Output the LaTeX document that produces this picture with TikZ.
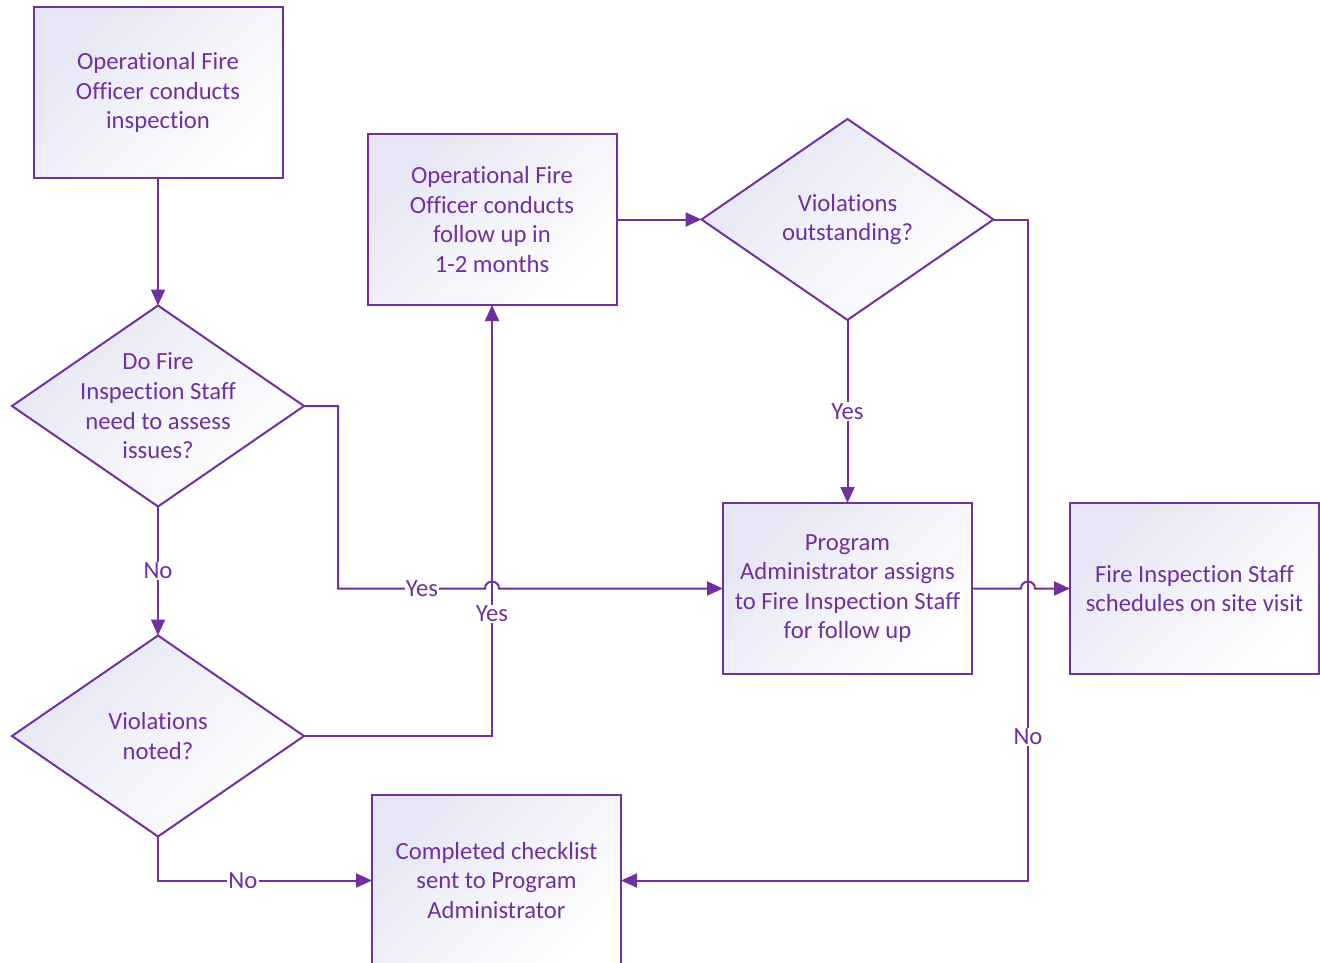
\documentclass[tikz,border=0pt]{standalone}
\usepackage{fontspec}
\setmainfont{Carlito}[Ligatures=NoCommon]
\usetikzlibrary{shapes.geometric,arrows.meta}
\definecolor{pur}{RGB}{112,48,160}
\definecolor{lav}{RGB}{230,230,244}
\tikzset{
  txt/.style={text=pur, align=center, font=\fontsize{18.5}{22.2}\selectfont},
  base/.style={draw=pur, line width=1.5pt, inner sep=0pt, outer sep=0pt,
    shade, shading=axis, top color=lav, bottom color=white, shading angle=45},
  box/.style={base, txt, rectangle, minimum width=249*0.75pt, minimum height=171*0.75pt},
  dia/.style={base, diamond, minimum width=292*0.75pt, minimum height=201*0.75pt},
  dtext/.style={txt, inner sep=0pt},
  conn/.style={draw=pur, line width=1.5pt, -{Triangle[length=12pt,width=10.5pt]}},
  lbl/.style={fill=white, text=pur, inner sep=1pt, font=\fontsize{18.5}{22.2}\selectfont},
}
\begin{document}
\begin{tikzpicture}[x=0.75pt, y=-0.75pt]
\useasboundingbox (0,0) rectangle (1320,963);
\node[box] (A) at (158,92.5) {Operational Fire\\Officer conducts\\inspection};
\node[dia, label={[dtext]center:{Do Fire\\Inspection Staff\\need to assess\\issues?}}] (D1) at (158,406) {};
\node[dia, label={[dtext]center:{Violations\\noted?}}] (D2) at (158,736) {};
\node[box] (B) at (492,219.5) {Operational Fire\\Officer conducts\\follow up in\\1-2 months};
\node[dia, label={[dtext]center:{Violations\\outstanding?}}] (D3) at (847.5,219.5) {};
\node[box] (C) at (847.5,588.5) {Program\\Administrator assigns\\to Fire Inspection Staff\\for follow up};
\node[box] (D) at (1194.5,588.5) {Fire Inspection Staff\\schedules on site visit};
\node[box] (E) at (496.5,880.5) {Completed checklist\\sent to Program\\Administrator};

\coordinate (c1) at (338,406);
\coordinate (c2) at (338,588.5);
\coordinate (h1a) at (485,588.5);
\coordinate (c3) at (492,736);
\coordinate (c4) at (158,880.5);
\coordinate (c5) at (1028,219.5);
\coordinate (c6) at (1028,880.5);
\coordinate (h2a) at (1021,588.5);

\draw[conn] (A.south) -- (D1.north);
\draw[conn] (D1.south) -- node[lbl] {No} (D2.north);
\draw[conn] (D2.east) -- (c3) -- node[lbl, pos=0.283] {Yes} (B.south);
\draw[conn] (D1.east) -- (c1) -- (c2) -- node[lbl, pos=0.571] {Yes} (h1a)
  arc[start angle=180, end angle=0, radius=5.25pt] -- (C.west);
\draw[conn] (D2.south) -- (c4) -- node[lbl, pos=0.397] {No} (E.west);
\draw[conn] (B.east) -- (D3.west);
\draw[conn] (D3.south) -- node[lbl] {Yes} (C.north);
\draw[conn] (D3.east) -- (c5) -- node[lbl, pos=0.783] {No} (c6) -- (E.east);
\draw[conn] (C.east) -- (h2a) arc[start angle=180, end angle=0, radius=5.25pt] -- (D.west);
\end{tikzpicture}
\end{document}
